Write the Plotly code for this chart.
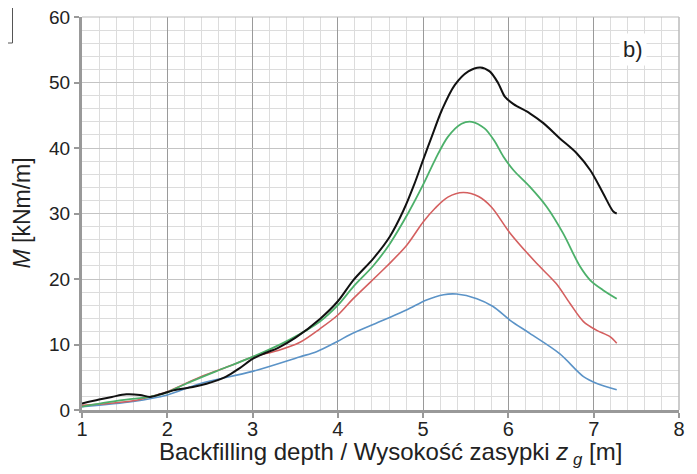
import plotly.graph_objects as go

# Data
black_x = [1.0, 1.2, 1.35, 1.52, 1.68, 1.8, 1.92, 2.07, 2.3, 2.46, 2.69, 2.85, 3.0, 3.15, 3.3, 3.5, 3.79, 4.0, 4.18, 4.42, 4.61, 4.77, 4.9, 5.0, 5.1, 5.22, 5.37, 5.53, 5.67, 5.78, 5.88, 5.96, 6.06, 6.25, 6.41, 6.6, 6.8, 6.96, 7.11, 7.23, 7.27]
black_y = [1.0, 1.6, 2.0, 2.4, 2.3, 2.0, 2.4, 3.0, 3.5, 4.0, 5.1, 6.4, 7.8, 8.7, 9.5, 11.0, 13.9, 16.6, 19.8, 23.2, 26.5, 30.5, 34.6, 38.2, 41.7, 45.8, 49.6, 51.7, 52.3, 51.7, 49.9, 47.8, 46.7, 45.3, 43.8, 41.5, 39.2, 36.6, 33.1, 30.3, 30.0]

green_x = [1.0, 1.25, 1.52, 1.79, 2.0, 2.2, 2.57, 3.0, 3.43, 3.79, 4.0, 4.18, 4.42, 4.61, 4.83, 5.0, 5.14, 5.29, 5.45, 5.57, 5.72, 5.84, 5.94, 6.06, 6.25, 6.45, 6.64, 6.84, 6.96, 7.11, 7.27]
green_y = [0.5, 1.1, 1.6, 2.0, 2.7, 3.9, 5.9, 8.1, 10.7, 13.5, 16.0, 18.8, 22.1, 25.4, 30.2, 34.4, 38.2, 41.7, 43.7, 44.0, 43.0, 41.0, 38.7, 36.6, 34.1, 31.0, 27.0, 21.9, 19.8, 18.3, 17.0]

red_x = [1.0, 1.3, 1.6, 1.87, 2.0, 2.38, 2.77, 3.0, 3.3, 3.55, 3.79, 4.0, 4.18, 4.57, 4.81, 5.0, 5.14, 5.29, 5.47, 5.65, 5.8, 6.02, 6.33, 6.56, 6.72, 6.88, 7.03, 7.19, 7.27]
red_y = [0.7, 1.0, 1.4, 2.3, 2.8, 5.0, 6.9, 8.1, 9.1, 10.3, 12.4, 14.5, 17.0, 21.9, 25.2, 28.7, 30.8, 32.5, 33.2, 32.6, 31.0, 27.0, 22.4, 19.3, 16.3, 13.5, 12.2, 11.2, 10.2]

blue_x = [1.0, 1.6, 2.0, 2.38, 3.0, 3.55, 3.75, 4.0, 4.14, 4.53, 4.81, 5.04, 5.24, 5.39, 5.63, 5.82, 6.02, 6.25, 6.6, 6.88, 7.03, 7.27]
blue_y = [0.5, 1.3, 2.3, 4.0, 5.9, 8.1, 8.9, 10.5, 11.5, 13.7, 15.3, 16.8, 17.6, 17.7, 17.0, 15.8, 13.7, 11.7, 8.6, 5.1, 4.1, 3.1]

x_ticks = [1, 2, 3, 4, 5, 6, 7, 8]
y_ticks = [0, 10, 20, 30, 40, 50, 60]

FONT = "Liberation Sans, Arial, sans-serif"

# page body has an 8px margin: figure sized/offset so the plot area lands
# at x 82..679, y 17..410 of the 697x474 window
W, H = 689, 466
L, R, T, B = 74, 18, 9, 64
PW, PH = W - L - R, H - T - B

fig = go.Figure()
for xs, ys, col, w in [
    (blue_x, blue_y, "#5b93c7", 1.6),
    (red_x, red_y, "#d45f5f", 1.6),
    (green_x, green_y, "#4cb06a", 1.8),
    (black_x, black_y, "#111111", 2.0),
]:
    fig.add_trace(go.Scatter(x=xs, y=ys, mode="lines",
                             line=dict(color=col, width=w, shape="spline", smoothing=0.9),
                             showlegend=False, hoverinfo="skip"))

fig.update_layout(
    width=W, height=H,
    margin=dict(l=L, r=R, t=T, b=B, autoexpand=False),
    paper_bgcolor="white", plot_bgcolor="white",
    font=dict(family=FONT, color="#222", size=20),
    xaxis=dict(
        range=[1, 8], tickvals=x_ticks, ticktext=[str(v) for v in x_ticks],
        automargin=False, ticklabeloverflow="allow",
        showgrid=True, gridcolor="#9a9a9a", gridwidth=1,
        minor=dict(dtick=0.2, showgrid=True, gridcolor="#dcdcdc", gridwidth=1),
        showline=True, linecolor="#999999", linewidth=3,
        ticks="outside", ticklen=5, tickwidth=2, tickcolor="#999999",
        tickfont=dict(size=20), zeroline=False, ticklabelstandoff=-6,
    ),
    yaxis=dict(
        range=[0, 60], tickvals=y_ticks, ticktext=[str(v) for v in y_ticks],
        automargin=False, ticklabeloverflow="allow",
        showgrid=True, gridcolor="#c4c4c4", gridwidth=1,
        minor=dict(dtick=2, showgrid=True, gridcolor="#dcdcdc", gridwidth=1),
        showline=True, linecolor="#999999", linewidth=3,
        ticks="outside", ticklen=5, tickwidth=2, tickcolor="#999999",
        tickfont=dict(size=19), zeroline=False,
    ),
    annotations=[
        dict(text="Backfilling depth / Wysokość zasypki <i>z</i><sub> <i>g</i></sub> [m]",
             xref="paper", yref="paper", x=(390 - 82) / PW, y=(410 - 454) / PH,
             xanchor="center", yanchor="middle", showarrow=False,
             font=dict(size=24, family=FONT, color="#222")),
        dict(text="<i>M</i> [kNm/m]", textangle=-90, xref="paper", yref="paper",
             x=(21 - 82) / PW, y=0.5, xanchor="center", yanchor="middle", showarrow=False,
             font=dict(size=23, family=FONT, color="#222")),
        dict(text="b)", xref="x", yref="y", x=7.46, y=55.0, showarrow=False,
             font=dict(size=22, family=FONT, color="#222"), bgcolor="white",
             borderpad=3),
    ],
    shapes=[
        dict(type="line", xref="paper", yref="paper", x0=0, x1=1, y0=1, y1=1,
             line=dict(color="#bbbbbb", width=1)),
        dict(type="line", xref="paper", yref="paper", x0=1, x1=1, y0=0, y1=1,
             line=dict(color="#bbbbbb", width=1.5)),
        dict(type="rect", xref="paper", yref="paper",
             x0=(0 - 82) / PW, x1=(12.5 - 82) / PW,
             y0=(410 - 43) / PH, y1=(410 - 5) / PH,
             line=dict(color="#555555", width=1)),
    ],
)

fig.write_html("out.html")
